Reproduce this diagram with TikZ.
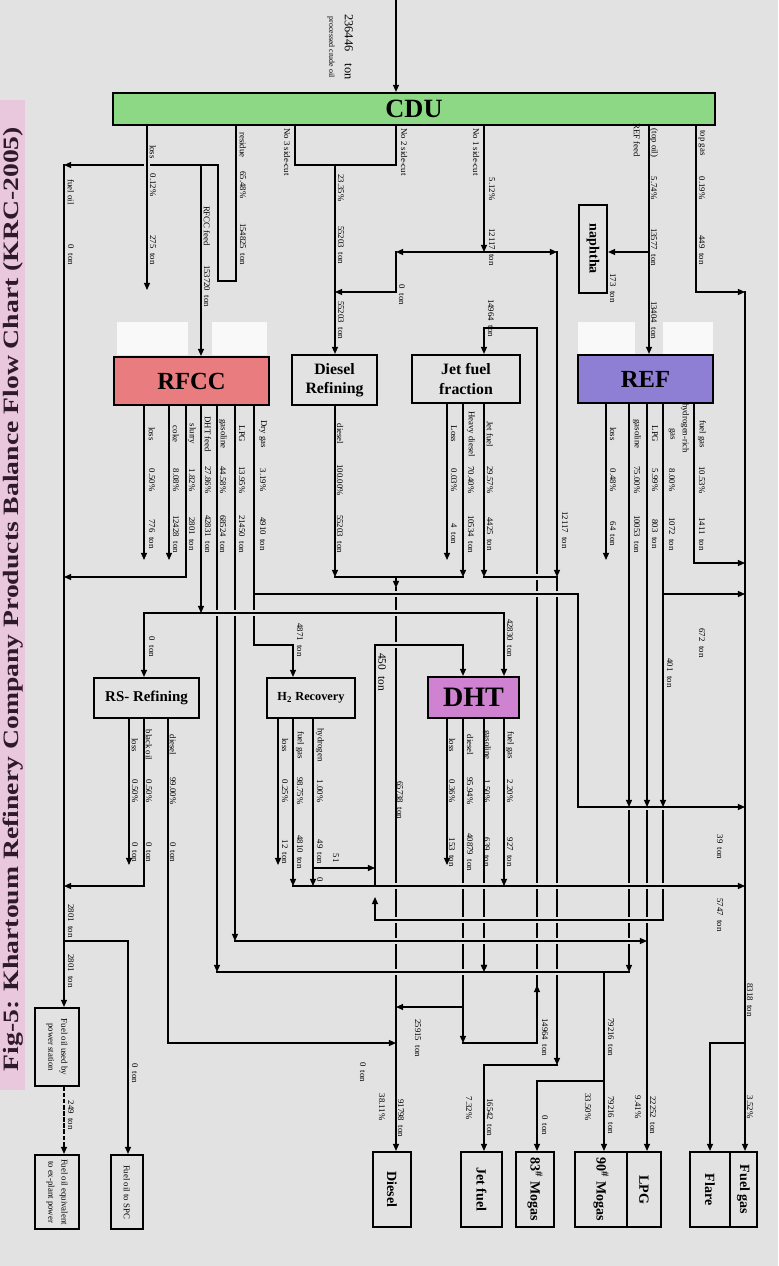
\documentclass[tikz,border=0pt]{standalone}
\usepackage{fontspec}
\setmainfont{Liberation Serif}
\usetikzlibrary{arrows.meta,positioning,calc}
\definecolor{paper}{HTML}{E2E2E2}
\definecolor{cdugreen}{HTML}{8CD884}
\definecolor{rfccred}{HTML}{E87C7E}
\definecolor{refblue}{HTML}{8E7FD4}
\definecolor{dhtpink}{HTML}{CF82CF}
\definecolor{titlepink}{HTML}{E9C7DD}
\definecolor{titleink}{HTML}{2E1A28}
\tikzset{
  unitbox/.style={rectangle, draw, very thick, fill=#1, inner sep=1pt,
    align=center, font=\bfseries},
  unitbox/.default=paper,
  prodbox/.style={unitbox, minimum height=1.5cm, inner sep=0pt,
    font=\fontsize{8}{9}\selectfont\bfseries},
  smallbox/.style={unitbox, inner sep=0pt, font=\fontsize{5}{5.6}\selectfont},
  wire/.style={line width=0.7pt, line cap=rect},
  flow/.style={wire, -{Triangle[length=4pt,width=3.4pt]}},
  over/.style={preaction={draw=paper, line width=3.4pt, line cap=butt,
    shorten <=2.6pt, shorten >=2.6pt, -}},
  lbl/.style={font=\fontsize{5}{6}\selectfont, rotate=-90, inner sep=0pt},
}

\begin{document}
\begin{tikzpicture}[x=0.02cm, y=-0.02cm]
\fill[paper] (0,0) rectangle (778,1266);
\useasboundingbox (0,0) rectangle (778,1266);

% title strip
\fill[titlepink] (0,100) rectangle (25,1090);
\node[rotate=90, inner sep=0pt, text=titleink,
  font=\fontsize{12.5}{13}\selectfont\bfseries] (title) at (13,599)
  {\scalebox{1.26}[1]{Fig-5: Khartoum Refinery Company Products Balance Flow Chart (KRC-2005)}};

% pasted patches
\fill[white!80!paper] (117,322) rectangle (188,355);
\fill[white!80!paper] (212,322) rectangle (267,355);
\fill[white!80!paper] (578,322) rectangle (635,355);
\fill[white!80!paper] (663,322) rectangle (713,355);

% columns and rows of the pipe grid
\foreach \n/\v in {FO/64, SPC/128, RSa/129, Rl/144, Lc/147, RSc/168, Rk/169,
    Rs/186, Fd/201, Rg/217, Rz/218, Rp/235, Res/236, Rd/254, Ha/278, Hb/293,
    S3/295, Hc/313, DF/335, Hy/375, Dc/396, Ja/447, Jb/463, Jc/484, De/504,
    Lp/537, By/557, Ex/578, M90/604, Qa/606, Qb/629, Qc/647, RF/649, Qd/663,
    Qe/694, TG/696, FL/710, FG/745}
  \coordinate (c\n) at (\v,0);
\foreach \n/\v in {Top/0, Ya/165, Yj/252, Rb/281, Le/290, Yt/292, Yk/328,
    Le1/560, Yfg/563, Yc/577, YdA/588, Yx/594, Yb/613, Yh/645, Yr/807,
    Le2/865, Y51/868, Yf/886, Yu2/897, Yh2/920, Yl/941, Yg/972, Yu/985,
    Ydd/1007, Yrs/1043, Yjp/1065, Y83/1081}
  \coordinate (r\n) at (0,\v);

% units
\node[unitbox=cdugreen, minimum width=12.04cm, minimum height=0.64cm,
  font=\fontsize{15}{15}\selectfont\bfseries] (cdu) at (414,109) {CDU};
\node[unitbox=rfccred, minimum width=3.1cm, minimum height=0.96cm,
  font=\fontsize{14}{14}\selectfont\bfseries] (rfcc) at (191.5,381) {RFCC};
\node[unitbox, minimum width=1.7cm, minimum height=1.0cm,
  font=\fontsize{9}{11}\selectfont\bfseries] (dref) at (334.5,380) {Diesel\\Refining};
\node[unitbox, minimum width=2.16cm, minimum height=0.96cm,
  font=\fontsize{9}{11}\selectfont\bfseries] (jff) at (466,379) {Jet fuel\\fraction};
\node[unitbox=refblue, minimum width=2.7cm, minimum height=0.96cm,
  font=\fontsize{14}{14}\selectfont\bfseries] (ref) at (645.5,379) {REF};
\node[unitbox, minimum width=0.56cm, minimum height=1.76cm,
  font=\fontsize{8}{9}\selectfont\bfseries] (naph) at (593,249) {\rotatebox{-90}{naphtha}};
\node[unitbox, minimum width=2.1cm, minimum height=0.8cm,
  font=\fontsize{8.5}{9}\selectfont\bfseries] (rsr) at (146.5,698) {RS- Refining};
\node[unitbox, minimum width=1.76cm, minimum height=0.8cm,
  font=\fontsize{7}{8}\selectfont\bfseries] (h2r) at (311,698) {H\textsubscript{2} Recovery};
\node[unitbox=dhtpink, minimum width=1.82cm, minimum height=0.82cm,
  font=\fontsize{16}{16}\selectfont\bfseries] (dht) at (473.5,697.5) {DHT};

% products
\node[smallbox, minimum width=0.88cm, minimum height=1.56cm] (pwr) at (57,1047)
  {\rotatebox{-90}{\shortstack{Fuel oil used by\\power station}}};
\node[smallbox, minimum width=0.88cm, minimum height=1.48cm] (equiv) at (57,1192)
  {\rotatebox{-90}{\shortstack{Fuel oil equivalent\\to ex-plant power}}};
\node[smallbox, minimum width=0.64cm, minimum height=1.48cm] (spc) at (127,1192)
  {\rotatebox{-90}{Fuel oil to SPC}};
\node[prodbox, minimum width=0.76cm] (dsl) at (392,1189.5) {\rotatebox{-90}{Diesel}};
\node[prodbox, minimum width=0.82cm] (jet) at (481.5,1189.5) {\rotatebox{-90}{Jet fuel}};
\node[prodbox, minimum width=0.76cm] (m83) at (535,1189.5) {\rotatebox{-90}{83\textsuperscript{\#} Mogas}};
\node[prodbox, minimum width=1.04cm] (m90) at (601,1189.5) {\rotatebox{-90}{90\textsuperscript{\#} Mogas}};
\node[prodbox, minimum width=0.68cm] (lpg) at (644,1189.5) {\rotatebox{-90}{LPG}};
\node[prodbox, minimum width=0.8cm] (flare) at (710,1189.5) {\rotatebox{-90}{Flare}};
\node[prodbox, minimum width=0.54cm] (fgas) at (743.5,1189.5) {\rotatebox{-90}{Fuel gas}};

% CDU cuts
\draw[flow] (cDc |- rTop) -- (cDc |- cdu.north);
\draw[wire] (cRes |- cdu.south) -- (cRes |- rRb) -- (cRz |- rRb) -- (cRz |- rYa);
\draw[flow] (cRz |- rYa) -- (cFO |- rYa);
\draw[flow, over] (cLc |- cdu.south) -- (cLc |- rLe);
\draw[flow] (cFd |- rYa) -- (cFd |- rfcc.north);
\draw[flow] (cFO |- rYa) -- (cFO |- pwr.north);
\draw[wire] (cS3 |- cdu.south) -- (cS3 |- rYa) -- (cDc |- rYa) -- (cDc |- cdu.south);
\draw[flow] (cDF |- rYa) -- (cDF |- dref.north);
\draw[flow] (cJc |- cdu.south) -- (cJc |- rYj);
\draw[flow] (cJc |- rYj) -- (cDc |- rYj);
\draw[flow] (cDc |- rYj) -- (cDc |- rYt) -- (cDF |- rYt);
\draw[flow] (cJc |- rYj) -- (cBy |- rYj);
\draw[flow] (cBy |- rYj) -- (cBy |- rYc);
\draw[flow] (cRF |- cdu.south) -- (cRF |- ref.north);
\draw[flow] (cRF |- rYj) -- (naph.east |- rYj);
\draw[flow] (cTG |- cdu.south) -- (cTG |- rYt) -- (cFG |- rYt);

% long runs that the headers cross
\draw[flow] (cDc |- rYdA) -- (cDc |- dsl.north);
\draw[flow] (cRg |- rfcc.south) -- (cRg |- rYg);
\draw[flow] (cRp |- rfcc.south) -- (cRp |- rYl);
\draw[flow] (cRd |- rfcc.south) -- (cRd |- rYh) -- (cHb |- rYh) -- (cHb |- h2r.north);
\draw[flow] (cBy |- rYc) -- (cBy |- rYjp);
\draw[flow] (cJb |- dht.south) -- (cJb |- rYrs);
\draw[flow] (cJc |- dht.south) -- (cJc |- rYg);
\draw[flow] (cJb |- rYrs) -- (cLp |- rYrs) -- (cLp |- rYk) -- (cJc |- rYk) -- (cJc |- jff.north);
\draw[flow] (cLp |- rYrs) -- (cLp |- rYu);
\draw[flow] (cQb |- rYr) -- (cQb |- rYg);
\draw[flow] (cQc |- rYr) -- (cQc |- lpg.north);
\draw[flow] (cFG |- rYt) -- (cFG |- fgas.north);

% headers
\draw[wire, over] (cQd |- rYr) -- (cQd |- rYh2) -- (cHy |- rYh2);
\draw[flow, over] (cHb |- rYf) -- (cFG |- rYf);
\draw[flow, over] (cRp |- rYl) -- (cQc |- rYl);
\draw[wire, over] (cRg |- rYg) -- (cQb |- rYg);
\draw[flow, over] (cRd |- rYx) -- (cEx |- rYx) -- (cEx |- rYr) -- (cFG |- rYr);
\draw[flow, over] (cFd |- rYb) -- (cRl |- rYb) -- (cRl |- rsr.north);
\draw[flow, over] (cFd |- rYb) -- (cDe |- rYb) -- (cDe |- dht.north);
\draw[flow, over] (cHy |- rYf) -- (cHy |- rYh) -- (cJb |- rYh) -- (cJb |- dht.north);
\draw[wire, over] (cJc |- rYc) -- (cBy |- rYc);

% RFCC, Diesel Refining, Jet fuel fraction
\draw[flow] (cRl |- rfcc.south) -- (cRl |- rLe1);
\draw[flow] (cRk |- rfcc.south) -- (cRk |- rLe1);
\draw[flow] (cRs |- rfcc.south) -- (cRs |- rYc) -- (cFO |- rYc);
\draw[flow] (cFd |- rfcc.south) -- (cFd |- rYb);
\draw[flow] (cDF |- dref.south) -- (cDF |- rYc);
\draw[wire] (cDF |- rYc) -- (cJb |- rYc);
\draw[flow] (cJb |- jff.south) -- (cJb |- rYc);
\draw[flow] (cDc |- rYc) -- (cDc |- rYdA);
\draw[flow] (cJa |- jff.south) -- (cJa |- rLe1);
\draw[flow] (cJc |- jff.south) -- (cJc |- rYc);

% REF
\draw[flow] (cQa |- ref.south) -- (cQa |- rLe1);
\draw[flow] (cQb |- ref.south) -- (cQb |- rYr);
\draw[flow] (cQc |- ref.south) -- (cQc |- rYr);
\draw[flow] (cQd |- ref.south) -- (cQd |- rYr);
\draw[flow] (cQd |- rYx) -- (cFG |- rYx);
\draw[flow] (cQe |- ref.south) -- (cQe |- rYfg) -- (cFG |- rYfg);

% RS-Refining, H2 Recovery, DHT
\draw[flow] (cRSa |- rsr.south) -- (cRSa |- rLe2);
\draw[flow] (cRl |- rsr.south) -- (cRl |- rYf) -- (cFO |- rYf);
\draw[flow] (cRSc |- rsr.south) -- (cRSc |- rYrs) -- (cDc |- rYrs);
\draw[flow] (cHa |- h2r.south) -- (cHa |- rLe2);
\draw[flow] (cHb |- h2r.south) -- (cHb |- rYf);
\draw[flow] (cHc |- h2r.south) -- (cHc |- rYf);
\draw[flow] (cHc |- rY51) -- (cHy |- rY51);
\draw[flow] (cJa |- dht.south) -- (cJa |- rLe2);
\draw[flow] (cDe |- dht.south) -- (cDe |- rYf);
\draw[flow] ($(cJc |- rYg)+(0,-12)$) -- (cJc |- rYg);
\draw[flow] (cJb |- rYdd) -- (cDc |- rYdd);
\draw[flow] (cHy |- rYh2) -- (cHy |- rYu2);

% to products
\draw[flow] (cM90 |- rYg) -- (cM90 |- m90.north);
\draw[flow] (cM90 |- rY83) -- (cLp |- rY83) -- (cLp |- m83.north);
\draw[flow] (cBy |- rYjp) -- (cJc |- rYjp) -- (cJc |- jet.north);
\draw[flow] (cFG |- rYrs) -- (cFL |- rYrs) -- (cFL |- flare.north);
\draw[flow] (cFO |- rYl) -- (cSPC |- rYl) -- (cSPC |- spc.north);
\draw[flow, dash pattern=on 2pt off 1.5pt] (cFO |- pwr.south) -- (cFO |- equiv.north);

% stream labels
\node[lbl, font=\fontsize{7}{8}\selectfont] (crude) at (349,47) {236446\quad ton};
\node[lbl, font=\fontsize{4.5}{5}\selectfont] (crudename) at (331,47) {processed crude oil};
\node[lbl, font=\fontsize{6.5}{7}\selectfont] (hto) at (382,672) {450\enspace ton};
\foreach \x/\y/\t [count=\i] in {
    153/152/loss, 153/185/0.12\%, 153/250/275\enspace ton,
    243/145/residue, 243/185/65.48\%, 243/244/154825\enspace ton,
    207/226/RFCC feed, 207/286/153720\enspace ton,
    71/192/fuel oil, 71/255/0\enspace ton,
    287/152/No 3 side-cut, 404/152/No 2 side-cut,
    341/188/23.35\%, 341/245/55203\enspace ton, 341/320/55203\enspace ton,
    402/295/0\enspace ton,
    476/152/No 1 side-cut, 492/189/5.12\%, 492/247/12117\enspace ton,
    491/318/14964\enspace ton,
    637/140/REF feed, 654/143/{(top oil)}, 654/188/5.74\%,
    654/247/13577\enspace ton, 613/288/173\enspace ton, 654/320/13404\enspace ton,
    702/143/top gas, 702/188/0.19\%, 702/250/449\enspace ton}
  \node[lbl] (lt\i) at (\x,\y) {\t};
\foreach \x/\a/\p/\w [count=\i] in {
    152/loss/0.50/776, 176/coke/8.08/12428, 192/slurry/1.82/2801,
    208/DHT feed/27.86/42831, 223/gasoline/44.58/68524, 242/LPG/13.95/21450,
    263/Dry gas/3.19/4910, 340/diesel/100.00/55203,
    454/Loss/0.03/4, 471/Heavy diesel/70.40/10534, 490/Jet fuel/29.57/4425,
    613/loss/0.48/64, 637/gasoline/75.00/10053, 655/LPG/5.99/803,
    672/gas/8.00/1072, 702/fuel gas/10.53/1411}
  {\node[lbl] (ua\i) at (\x,434) {\a};
   \node[lbl] (ub\i) at (\x,480) {\p\%};
   \node[lbl] (uc\i) at (\x,534) {\w\enspace ton};}
\node[lbl] (hrich) at (685,428) {hydrogen-rich};
\foreach \x/\a/\p/\w [count=\i] in {
    135/loss/0.50/0, 149/black oil/0.50/0, 173/diesel/99.00/0,
    285/loss/0.25/12, 300/fuel gas/98.75/4810, 320/hydrogen/1.00/49,
    452/loss/0.36/153, 470/diesel/95.94/40879, 487/gasoline/1.50/639,
    510/fuel gas/2.20/927}
  {\node[lbl] (va\i) at (\x,745) {\a};
   \node[lbl] (vb\i) at (\x,791) {\p\%};
   \node[lbl] (vc\i) at (\x,852) {\w\enspace ton};}
\foreach \x/\y/\t [count=\i] in {
    565/530/12117\enspace ton, 300/640/4871\enspace ton, 152/647/0\enspace ton,
    510/638/42830\enspace ton, 400/800/65738\enspace ton, 670/673/401\enspace ton,
    702/643/672\enspace ton, 720/847/39\enspace ton, 720/915/5747\enspace ton,
    750/1000/8318\enspace ton, 750/1107/3.52\%, 336/858/51, 320/880/0,
    71/921/2801\enspace ton, 71/971/2801\enspace ton, 135/1073/0\enspace ton,
    71/1115/249\enspace ton, 363/1072/0\enspace ton, 382/1107/38.11\%,
    401/1118/91798\enspace ton, 418/1038/25915\enspace ton,
    545/1037/14964\enspace ton, 611/1037/79216\enspace ton,
    611/1115/79216\enspace ton, 588/1107/33.50\%, 469/1108/7.32\%,
    490/1117/16542\enspace ton, 545/1125/0\enspace ton, 638/1107/9.41\%,
    653/1115/22252\enspace ton}
  \node[lbl] (lb\i) at (\x,\y) {\t};
\end{tikzpicture}
\end{document}
